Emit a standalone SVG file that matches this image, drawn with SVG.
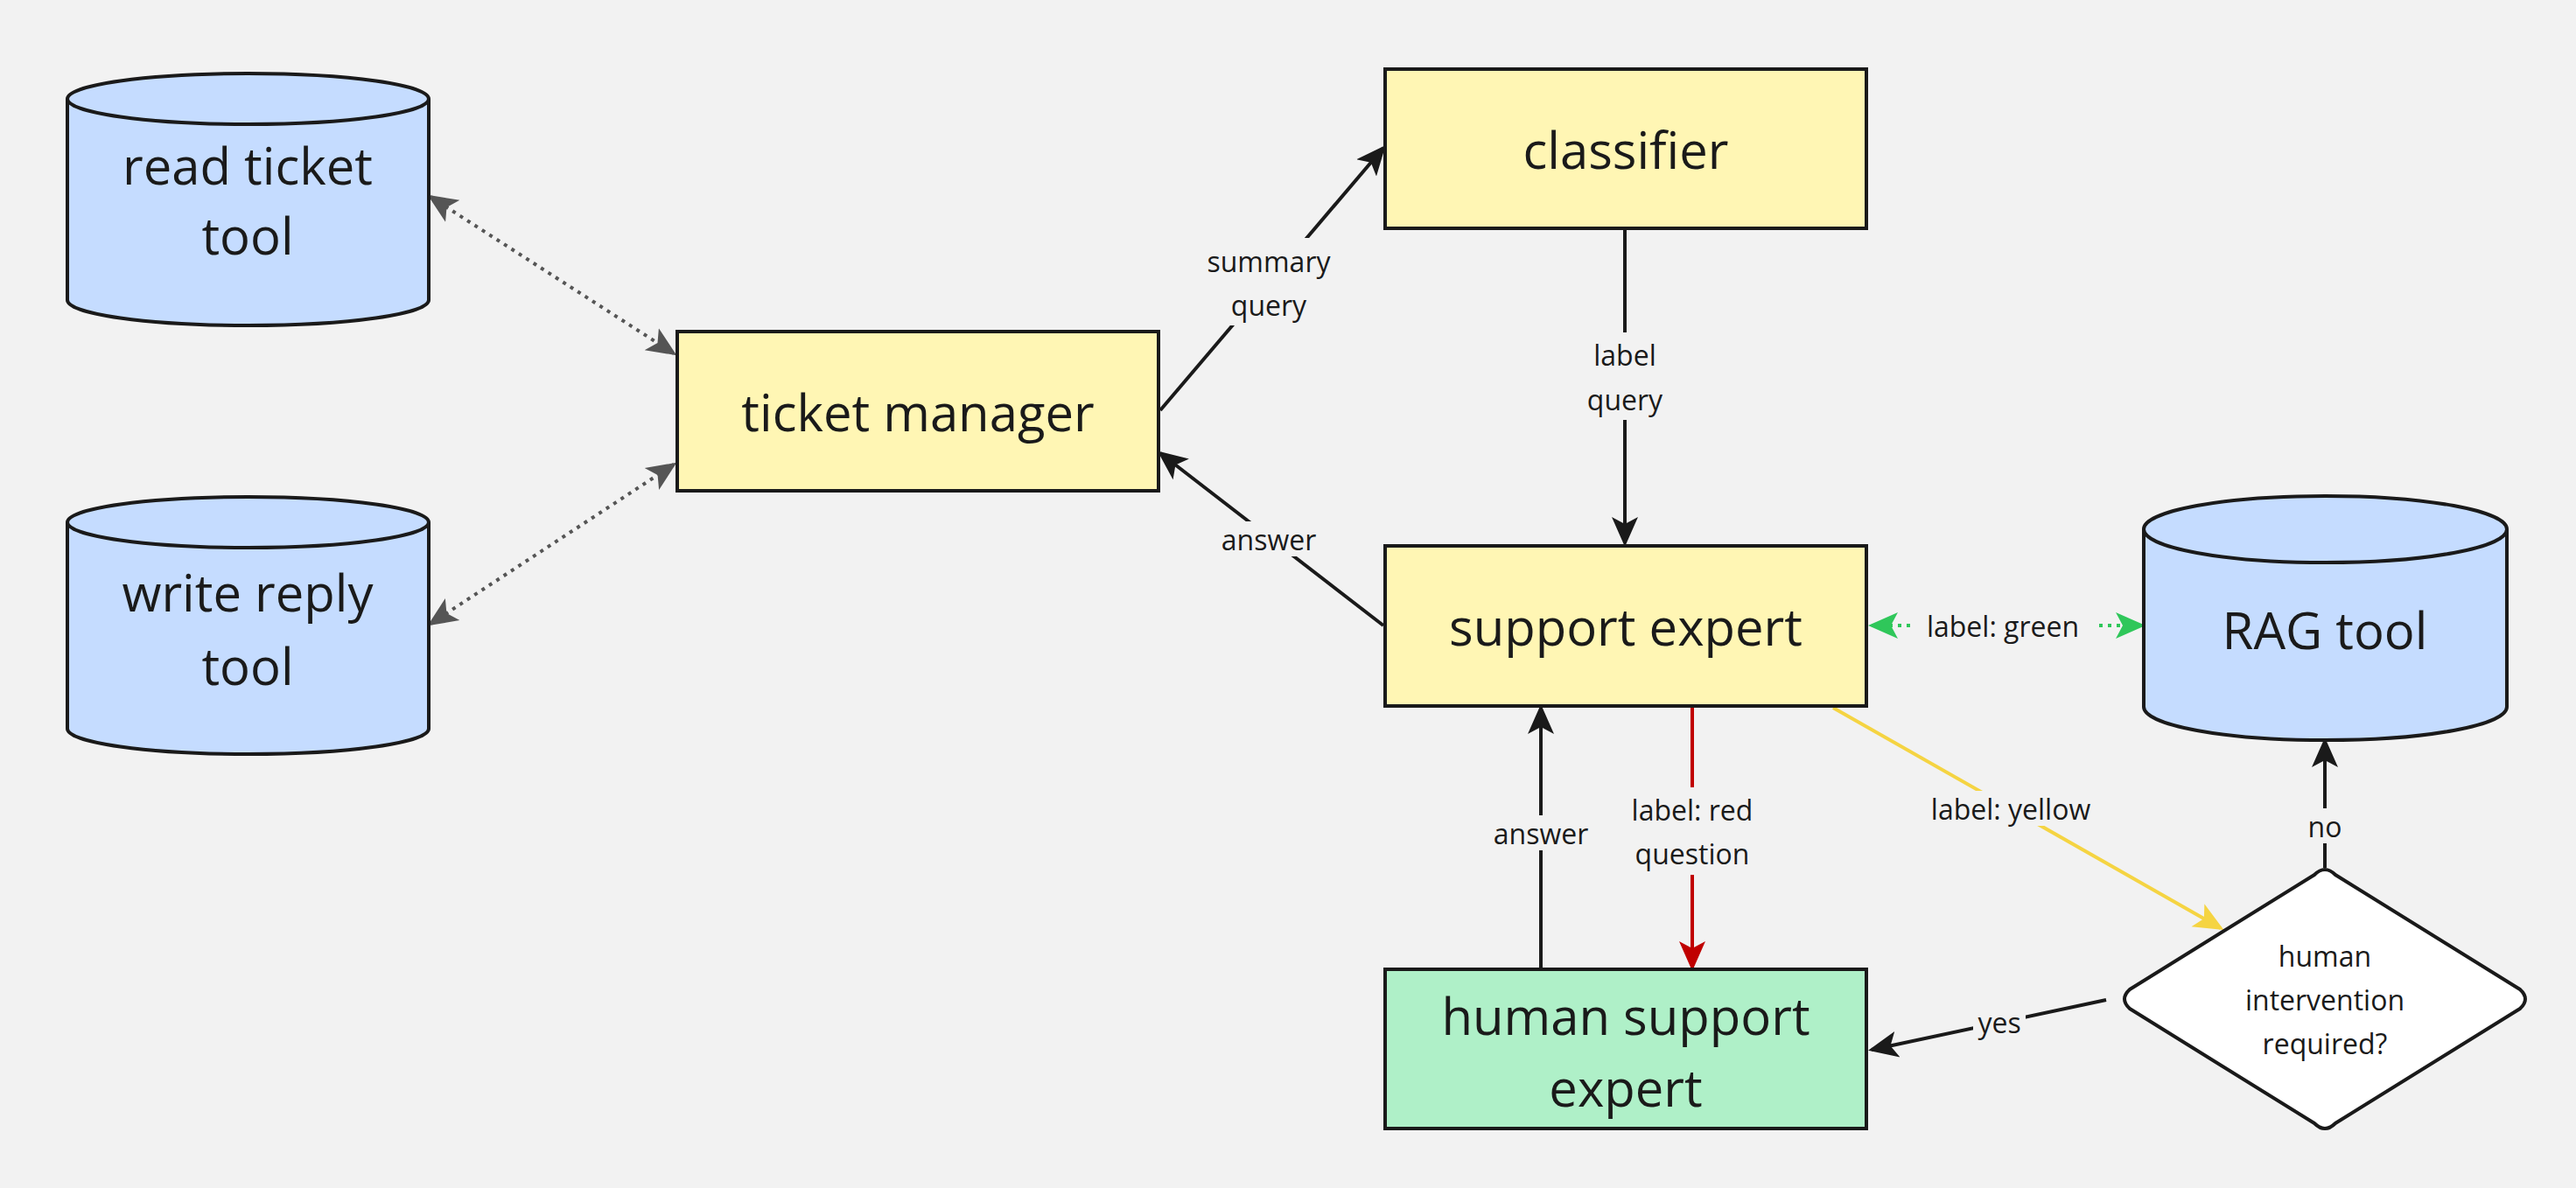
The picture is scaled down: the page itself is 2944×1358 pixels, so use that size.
<svg xmlns="http://www.w3.org/2000/svg" width="2944" height="1358" viewBox="0 0 2944 1358">
<style>
.node{stroke:#1a1a1a;stroke-width:4}
.y{fill:#fff6b4}.b{fill:#c5dcff}.g{fill:#aff0c8}
.t{font-family:"Open Sans","Noto Sans",sans-serif;font-size:58px;fill:#1a1a1a;text-anchor:middle;dominant-baseline:central}
.l{font-family:"Open Sans","Noto Sans",sans-serif;font-size:32px;fill:#1a1a1a;text-anchor:middle;dominant-baseline:central}
.lb{fill:#f2f2f2}
.c{fill:none;stroke-width:4}
</style>
<defs>
<marker id="ak" markerUnits="userSpaceOnUse" markerWidth="34" markerHeight="34" viewBox="0 0 34 34" refX="30" refY="17" orient="auto-start-reverse"><path d="M0,2 L34,17 L0,32 L8,17Z" fill="#1a1a1a"/></marker>
<marker id="ag" markerUnits="userSpaceOnUse" markerWidth="34" markerHeight="34" viewBox="0 0 34 34" refX="30" refY="17" orient="auto-start-reverse"><path d="M0,2 L34,17 L0,32 L8,17Z" fill="#555"/></marker>
<marker id="ar" markerUnits="userSpaceOnUse" markerWidth="34" markerHeight="34" viewBox="0 0 34 34" refX="30" refY="17" orient="auto-start-reverse"><path d="M0,2 L34,17 L0,32 L8,17Z" fill="#c00000"/></marker>
<marker id="ay" markerUnits="userSpaceOnUse" markerWidth="34" markerHeight="34" viewBox="0 0 34 34" refX="30" refY="17" orient="auto-start-reverse"><path d="M0,2 L34,17 L0,32 L8,17Z" fill="#f5d442"/></marker>
<marker id="agr" markerUnits="userSpaceOnUse" markerWidth="34" markerHeight="34" viewBox="0 0 34 34" refX="30" refY="17" orient="auto-start-reverse"><path d="M0,2 L34,17 L0,32 L8,17Z" fill="#2fc75a"/></marker>
</defs>
<rect width="2944" height="1358" fill="#f2f2f2"/>
<g id="connectors">
<line class="c" x1="492" y1="225" x2="770" y2="404" stroke="#555" stroke-dasharray="4 6" marker-start="url(#ag)" marker-end="url(#ag)"/>
<line class="c" x1="492" y1="713" x2="770" y2="531" stroke="#555" stroke-dasharray="4 6" marker-start="url(#ag)" marker-end="url(#ag)"/>
<line class="c" x1="1326" y1="469" x2="1581" y2="169" stroke="#1a1a1a" marker-end="url(#ak)"/>
<line class="c" x1="1581" y1="715" x2="1326" y2="518" stroke="#1a1a1a" marker-end="url(#ak)"/>
<line class="c" x1="1857" y1="261" x2="1857" y2="621" stroke="#1a1a1a" marker-end="url(#ak)"/>
<line class="c" x1="2139" y1="715" x2="2448" y2="715" stroke="#2fc75a" stroke-dasharray="4 6" marker-start="url(#agr)" marker-end="url(#agr)"/>
<line class="c" x1="1934" y1="807" x2="1934" y2="1106" stroke="#c00000" marker-end="url(#ar)"/>
<line class="c" x1="1761" y1="1108" x2="1761" y2="809" stroke="#1a1a1a" marker-end="url(#ak)"/>
<line class="c" x1="2095" y1="809" x2="2538" y2="1061" stroke="#f5d442" marker-end="url(#ay)"/>
<line class="c" x1="2657" y1="992" x2="2657" y2="847" stroke="#1a1a1a" marker-end="url(#ak)"/>
<line class="c" x1="2407" y1="1143" x2="2139" y2="1200" stroke="#1a1a1a" marker-end="url(#ak)"/>
<rect class="lb" x="1365" y="272" width="170" height="100"/>
<text class="l" x="1450" y="298">summary</text><text class="l" x="1450" y="348">query</text>
<rect class="lb" x="1390" y="596" width="120" height="40"/>
<text class="l" x="1450" y="616">answer</text>
<rect class="lb" x="1807" y="380" width="100" height="100"/>
<text class="l" x="1857" y="405">label</text><text class="l" x="1857" y="456">query</text>
<rect class="lb" x="2185" y="695" width="208" height="40"/>
<text class="l" x="2289" y="715">label: green</text>
<rect class="lb" x="1855" y="900" width="158" height="100"/>
<text class="l" x="1934" y="925">label: red</text><text class="l" x="1934" y="975">question</text>
<rect class="lb" x="1701" y="932" width="120" height="40"/>
<text class="l" x="1761" y="952">answer</text>
<rect class="lb" x="2193" y="904" width="210" height="40"/>
<text class="l" x="2298" y="924">label: yellow</text>
<rect class="lb" x="2632" y="924" width="50" height="40"/>
<text class="l" x="2657" y="944">no</text>
<rect class="lb" x="2255" y="1150" width="60" height="40"/>
<text class="l" x="2285" y="1168">yes</text>
</g>
<g id="read-ticket-tool">
<path class="node b" d="M77,113 A206,29 0 0 1 490,113 L490,343 A206,29 0 0 1 77,343 Z"/>
<path class="node" fill="none" d="M77,113 A206,29 0 0 0 490,113"/>
<text class="t" x="283" y="188">read ticket</text><text class="t" x="283" y="268">tool</text>
</g>
<g id="write-reply-tool">
<path class="node b" d="M77,597 A206,29 0 0 1 490,597 L490,833 A206,29 0 0 1 77,833 Z"/>
<path class="node" fill="none" d="M77,597 A206,29 0 0 0 490,597"/>
<text class="t" x="283" y="676">write reply</text><text class="t" x="283" y="760">tool</text>
</g>
<g id="rag-tool">
<path class="node b" d="M2450,605 A207,38 0 0 1 2865,605 L2865,808 A207,38 0 0 1 2450,808 Z"/>
<path class="node" fill="none" d="M2450,605 A207,38 0 0 0 2865,605"/>
<text class="t" x="2657" y="719">RAG tool</text>
</g>
<g id="ticket-manager">
<rect class="node y" x="774" y="379" width="550" height="182"/>
<text class="t" x="1049" y="470">ticket manager</text>
</g>
<g id="classifier">
<rect class="node y" x="1583" y="79" width="550" height="182"/>
<text class="t" x="1858" y="170">classifier</text>
</g>
<g id="support-expert">
<rect class="node y" x="1583" y="624" width="550" height="183"/>
<text class="t" x="1858" y="715">support expert</text>
</g>
<g id="human-support-expert">
<rect class="node g" x="1583" y="1108" width="550" height="182"/>
<text class="t" x="1858" y="1160">human support</text><text class="t" x="1858" y="1242">expert</text>
</g>
<g id="decision">
<path class="node" fill="#fff" stroke-linejoin="round" d="M2645,1000 Q2657,988 2669,1000 L2880,1131 Q2892,1142 2880,1153 L2669,1284 Q2657,1296 2645,1284 L2434,1153 Q2422,1142 2434,1131 Z"/>
<text class="l" x="2657" y="1092">human</text><text class="l" x="2657" y="1142">intervention</text><text class="l" x="2657" y="1192">required?</text>
</g>
</svg>
